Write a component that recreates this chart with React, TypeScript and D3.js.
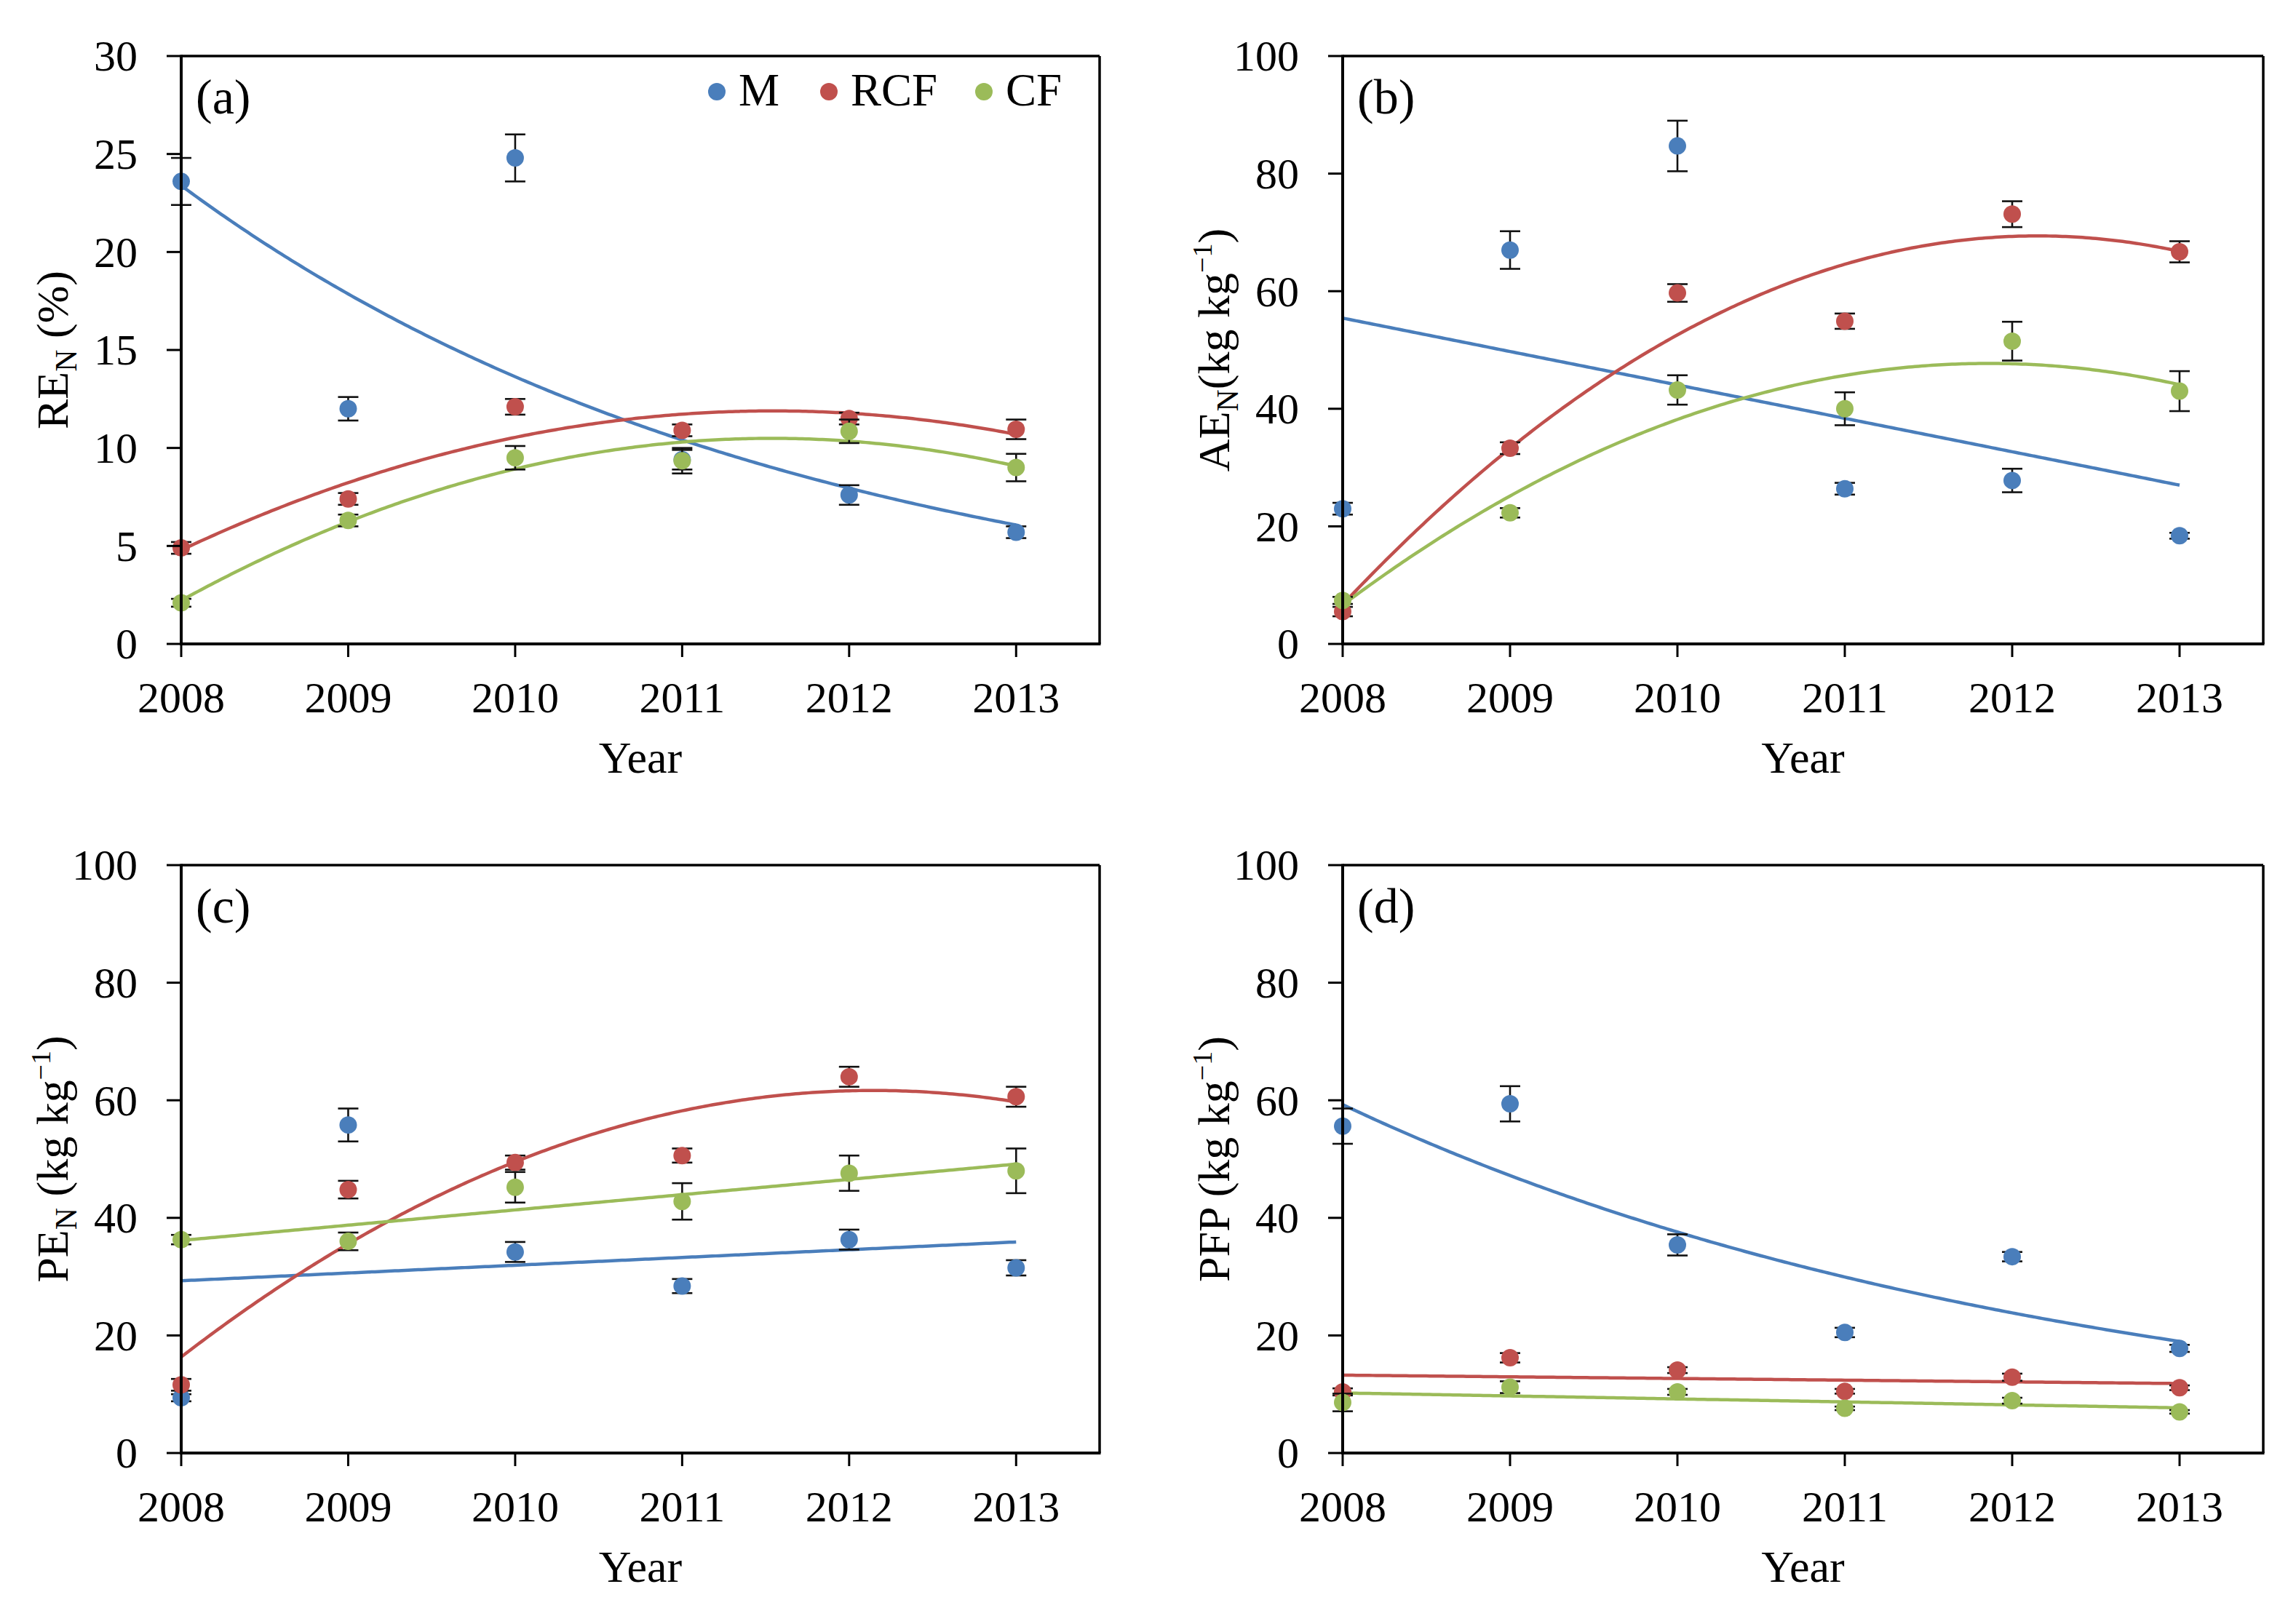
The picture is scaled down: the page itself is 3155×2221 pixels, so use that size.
import React from "react";
import * as d3 from "d3";

// ---------- data ----------
const years = [2008, 2009, 2010, 2011, 2012, 2013];
const seriesNames = ["M", "RCF", "CF"];
const seriesColors = ["#4A7EBB", "#C0504D", "#9BBB59"];

// (a) RE_N (%)
const reM = [23.6, 12.0, 24.8, 9.4, 7.6, 5.7];
const reMErr = [1.2, 0.6, 1.2, 0.5, 0.5, 0.3];
const reRCF = [4.9, 7.4, 12.1, 10.9, 11.5, 10.95];
const reRCFErr = [0.3, 0.3, 0.4, 0.3, 0.3, 0.5];
const reCF = [2.1, 6.3, 9.5, 9.35, 10.85, 9.0];
const reCFErr = [0.2, 0.3, 0.6, 0.65, 0.6, 0.7];

// (b) AE_N (kg kg-1)
const aeM = [23.0, 67.0, 84.7, 26.4, 27.8, 18.4];
const aeMErr = [1.0, 3.2, 4.3, 1.0, 2.0, 0.5];
const aeRCF = [5.5, 33.3, 59.7, 54.9, 73.1, 66.7];
const aeRCFErr = [0.8, 1.0, 1.5, 1.3, 2.2, 1.8];
const aeCF = [7.4, 22.3, 43.2, 40.0, 51.5, 43.0];
const aeCFErr = [0.6, 0.8, 2.5, 2.8, 3.3, 3.4];

// (c) PE_N (kg kg-1)
const peM = [9.4, 55.8, 34.2, 28.4, 36.3, 31.5];
const peMErr = [0.6, 2.8, 1.7, 1.2, 1.7, 1.3];
const peRCF = [11.6, 44.8, 49.4, 50.6, 64.0, 60.6];
const peRCFErr = [1.0, 1.5, 1.2, 1.2, 1.7, 1.7];
const peCF = [36.3, 36.0, 45.2, 42.8, 47.6, 48.0];
const peCFErr = [0.8, 1.5, 2.6, 3.1, 3.0, 3.8];

// (d) PFP (kg kg-1)
const pfpM = [55.6, 59.4, 35.4, 20.5, 33.4, 17.8];
const pfpMErr = [3.0, 3.0, 1.8, 0.8, 0.8, 0.6];
const pfpRCF = [10.4, 16.2, 14.1, 10.5, 12.9, 11.1];
const pfpRCFErr = [0.6, 0.8, 0.5, 0.4, 0.6, 0.4];
const pfpCF = [8.6, 11.2, 10.4, 7.6, 8.9, 7.0];
const pfpCFErr = [1.5, 1.0, 0.5, 0.3, 0.5, 0.3];

// trendline types per panel (M, RCF, CF)
const fitsA = ["exp", "poly2", "poly2"];
const fitsB = ["linear", "poly2", "poly2"];
const fitsC = ["linear", "poly2", "linear"];
const fitsD = ["exp", "linear", "linear"];

const yMaxes = [30, 100, 100, 100];
const yStepList = [5, 20, 20, 20];
const panelLabels = ["(a)", "(b)", "(c)", "(d)"];
const xTitle = "Year";

// ---------- fitting ----------
function fitLinear(xs: number[], ys: number[]) {
  const mx = d3.mean(xs)!;
  const my = d3.mean(ys)!;
  let sxy = 0, sxx = 0;
  xs.forEach((x, i) => { sxy += (x - mx) * (ys[i] - my); sxx += (x - mx) * (x - mx); });
  const b = sxy / sxx;
  const a = my - b * mx;
  return (x: number) => a + b * x;
}
function fitExp(xs: number[], ys: number[]) {
  const f = fitLinear(xs, ys.map((v) => Math.log(v)));
  return (x: number) => Math.exp(f(x));
}
function fitPoly2(xs: number[], ys: number[]) {
  // normal equations
  const S = [0, 0, 0, 0, 0];
  const T = [0, 0, 0];
  xs.forEach((x, i) => {
    for (let k = 0; k < 5; k++) S[k] += Math.pow(x, k);
    for (let k = 0; k < 3; k++) T[k] += Math.pow(x, k) * ys[i];
  });
  const M = [
    [S[0], S[1], S[2], T[0]],
    [S[1], S[2], S[3], T[1]],
    [S[2], S[3], S[4], T[2]],
  ];
  for (let c = 0; c < 3; c++) {
    for (let r = c + 1; r < 3; r++) {
      const f = M[r][c] / M[c][c];
      for (let k = c; k < 4; k++) M[r][k] -= f * M[c][k];
    }
  }
  const co = [0, 0, 0];
  for (let r = 2; r >= 0; r--) {
    let s = M[r][3];
    for (let k = r + 1; k < 3; k++) s -= M[r][k] * co[k];
    co[r] = s / M[r][r];
  }
  return (x: number) => co[0] + co[1] * x + co[2] * x * x;
}
function makeFit(type: string, xs: number[], ys: number[]) {
  if (type === "exp") return fitExp(xs, ys);
  if (type === "poly2") return fitPoly2(xs, ys);
  return fitLinear(xs, ys);
}

// ---------- layout ----------
const W = 3155;
const H = 2221;
const colLeft = [249, 1845];
const colRight = [1511, 3110];
const rowTop = [77, 1189];
const rowBottom = [885, 1997];
const FONT = "'Liberation Serif', 'Times New Roman', Times, serif";

type Series = { name: string; color: string; values: number[]; errors: number[]; fit: string };

function YTitle({ id }: { id: number }) {
  const big = 62;
  const small = 42;
  if (id === 0)
    return (
      <>
        RE<tspan dy={12} fontSize={small}>N</tspan>
        <tspan dy={-12}> (%)</tspan>
      </>
    );
  if (id === 1)
    return (
      <>
        AE<tspan dy={12} fontSize={small}>N</tspan>
        <tspan dy={-12}>(kg kg</tspan>
        <tspan dy={-24} fontSize={38}>−1</tspan>
        <tspan dy={24} fontSize={big}>)</tspan>
      </>
    );
  if (id === 2)
    return (
      <>
        PE<tspan dy={12} fontSize={small}>N</tspan>
        <tspan dy={-12}> (kg kg</tspan>
        <tspan dy={-24} fontSize={38}>−1</tspan>
        <tspan dy={24} fontSize={big}>)</tspan>
      </>
    );
  return (
    <>
      PFP (kg kg<tspan dy={-24} fontSize={38}>−1</tspan>
      <tspan dy={24} fontSize={big}>)</tspan>
    </>
  );
}

function Panel({ id, series, legend }: { id: number; series: Series[]; legend: boolean }) {
  const col = id % 2;
  const row = Math.floor(id / 2);
  const left = colLeft[col];
  const right = colRight[col];
  const top = rowTop[row];
  const bottom = rowBottom[row];
  const x = d3.scaleLinear().domain([2008, 2013.5]).range([left, right]);
  const y = d3.scaleLinear().domain([0, yMaxes[id]]).range([bottom, top]);
  const yTicks = d3.range(0, yMaxes[id] + yStepList[id] / 2, yStepList[id]);
  const xs = years.map((yr) => yr - 2008);
  const samples = d3.range(0, 5.0001, 0.02);
  const line = d3
    .line<[number, number]>()
    .x((d) => x(d[0] + 2008))
    .y((d) => y(d[1]));
  const midY = (top + bottom) / 2;
  const capW = 14;

  return (
    <g>
      {/* trendlines */}
      {series.map((s) => {
        const f = makeFit(s.fit, xs, s.values);
        const pts = samples.map((t) => [t, f(t)] as [number, number]);
        return <path key={"t" + s.name} d={line(pts) || ""} fill="none" stroke={s.color} strokeWidth={4.5} />;
      })}
      {/* error bars + markers */}
      {series.map((s) => (
        <g key={"s" + s.name}>
          {s.values.map((v, i) => {
            const cx = x(years[i]);
            const y1 = y(v - s.errors[i]);
            const y2 = y(v + s.errors[i]);
            return (
              <g key={i} stroke="#111" strokeWidth={2.6}>
                <line x1={cx} x2={cx} y1={y1} y2={y2} />
                <line x1={cx - capW} x2={cx + capW} y1={y1} y2={y1} />
                <line x1={cx - capW} x2={cx + capW} y1={y2} y2={y2} />
              </g>
            );
          })}
          {s.values.map((v, i) => (
            <circle key={"c" + i} cx={x(years[i])} cy={y(v)} r={12} fill={s.color} />
          ))}
        </g>
      ))}
      {/* frame */}
      <line x1={left} x2={right} y1={top} y2={top} stroke="#000" strokeWidth={3.5} />
      <line x1={right} x2={right} y1={top} y2={bottom} stroke="#000" strokeWidth={3.5} />
      <line x1={left} x2={left} y1={top - 1.5} y2={bottom + 1.5} stroke="#000" strokeWidth={4} />
      <line x1={left - 1.5} x2={right + 1.5} y1={bottom} y2={bottom} stroke="#000" strokeWidth={4} />
      {/* y ticks */}
      {yTicks.map((t) => (
        <g key={"yt" + t}>
          <line x1={left - 20} x2={left} y1={y(t)} y2={y(t)} stroke="#000" strokeWidth={3} />
          <text x={left - 60} y={y(t)} dy="0.34em" textAnchor="end" fontSize={60} fontFamily={FONT} fill="#000">
            {t}
          </text>
        </g>
      ))}
      {/* x ticks */}
      {years.map((yr) => (
        <g key={"xt" + yr}>
          <line x1={x(yr)} x2={x(yr)} y1={bottom} y2={bottom + 18} stroke="#000" strokeWidth={3} />
          <text x={x(yr)} y={bottom + 94} textAnchor="middle" fontSize={60} fontFamily={FONT} fill="#000">
            {yr}
          </text>
        </g>
      ))}
      {/* axis titles */}
      <text x={(left + right) / 2} y={bottom + 177} textAnchor="middle" fontSize={62} fontFamily={FONT} fill="#000">
        {xTitle}
      </text>
      <text
        transform={`translate(${left - 156},${midY}) rotate(-90)`}
        textAnchor="middle"
        fontSize={62}
        fontFamily={FONT}
        fill="#000"
      >
        <YTitle id={id} />
      </text>
      {/* panel label */}
      <text x={left + 20} y={top + 79} fontSize={68} fontFamily={FONT} fill="#000">
        {panelLabels[id]}
      </text>
      {legend && (
        <g>
          {series.map((s, i) => {
            const dotX = [985, 1139, 1352][i];
            return (
              <g key={"lg" + s.name}>
                <circle cx={dotX} cy={top + 49} r={12} fill={s.color} />
                <text x={dotX + 30} y={top + 68} fontSize={63} fontFamily={FONT} fill="#000">
                  {s.name}
                </text>
              </g>
            );
          })}
        </g>
      )}
    </g>
  );
}

function build(vals: number[][], errs: number[][], fits: string[]): Series[] {
  return seriesNames.map((n, i) => ({ name: n, color: seriesColors[i], values: vals[i], errors: errs[i], fit: fits[i] }));
}

export default function App() {
  const panels = [
    build([reM, reRCF, reCF], [reMErr, reRCFErr, reCFErr], fitsA),
    build([aeM, aeRCF, aeCF], [aeMErr, aeRCFErr, aeCFErr], fitsB),
    build([peM, peRCF, peCF], [peMErr, peRCFErr, peCFErr], fitsC),
    build([pfpM, pfpRCF, pfpCF], [pfpMErr, pfpRCFErr, pfpCFErr], fitsD),
  ];
  return (
    <div style={{ position: "absolute", left: 0, top: 0 }}>
      <svg width={W} height={H} viewBox={`0 0 ${W} ${H}`} style={{ display: "block", background: "#fff" }}>
        <rect x={0} y={0} width={W} height={H} fill="#fff" />
        {panels.map((s, i) => (
          <Panel key={i} id={i} series={s} legend={i === 0} />
        ))}
      </svg>
    </div>
  );
}
